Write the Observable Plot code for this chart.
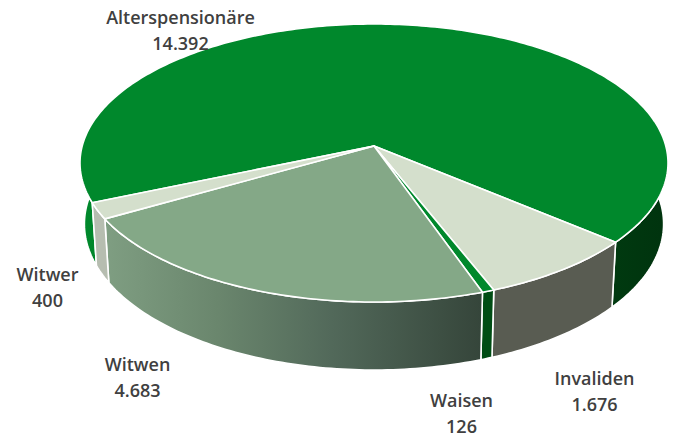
<!DOCTYPE html>
<html>
<head>
<meta charset="utf-8">
<script src="https://cdn.jsdelivr.net/npm/d3@7"></script>
<script src="https://cdn.jsdelivr.net/npm/@observablehq/plot@0.6"></script>
<style>html,body{margin:0;padding:0;background:#fff}</style>
</head>
<body>
<div id="chart"></div>
<script>
const names = ["Alterspensionäre", "Invaliden", "Waisen", "Witwen", "Witwer"];
const values = [14392, 1676, 126, 4683, 400];
const topColors = ["#00882c", "#d4dfcc", "#00882c", "#84a887", "#d4dfcc"];
const sideColors = ["url(#sideA)", "#595c52", "#004d14", "url(#sideW)", "#b6bdb0"];
const labelX = [180, 594, 461, 137, 47];
const labelY = [28, 389, 411, 375, 285];

const firstAngle = 246.8;          // degrees clockwise from the back of the pie
const persp = -0.122;              // projective shift of the pie's centre
const topDisc = {cx: 374, cy: 163, a: 294, b: 139};
const baseDisc = {cx: 374, cy: 224, a: 289.6, b: 146};

function project(deg, d) {
  const t = deg * Math.PI / 180, u = Math.sin(t), v = -Math.cos(t);
  const w = 1 + persp * v;
  return [d.cx + d.a * u * Math.sqrt(1 - persp * persp) / w, d.cy + d.b * (v + persp) / w];
}
const total = d3.sum(values);
let acc = firstAngle;
const slices = names.map((name, i) => {
  const start = acc, end = acc + values[i] / total * 360;
  acc = end;
  const n = Math.max(2, Math.ceil(end - start));
  const rows = d3.range(n + 1).map(k => {
    const deg = start + (end - start) * k / n;
    const [x, y] = project(deg, topDisc), [xb, yb] = project(deg, baseDisc);
    return {x, y, xb, yb};
  });
  return {name, rows, i};
});
const apexY = topDisc.cy + topDisc.b * persp;

const defs = () => {
  const g = d3.create("svg:defs");
  const grad = (id, stops) => {
    const l = g.append("linearGradient").attr("id", id).attr("x1", 0).attr("x2", 1).attr("y1", 0).attr("y2", 0);
    stops.forEach(([o, c]) => l.append("stop").attr("offset", o).attr("stop-color", c));
  };
  grad("sideW", [[0, "#7f9e82"], [0.3, "#6a866d"], [0.6, "#52695a"], [1, "#35453a"]]);
  grad("sideA", [[0, "#008a2c"], [0.1, "#007a26"], [0.5, "#004d14"], [0.9, "#003a10"], [1, "#00330e"]]);
  return g.node();
};

const chart = Plot.plot({
  width: 675, height: 434,
  margin: 0,
  style: {background: "#fff"},
  x: {domain: [0, 675], range: [0, 675], axis: null},
  y: {domain: [0, 434], range: [0, 434], axis: null},
  marks: [
    defs,
    ...slices.map(s => Plot.area(s.rows, {
      x1: "x", y1: "y", x2: "xb", y2: "yb",
      fill: sideColors[s.i], stroke: "#fff", strokeWidth: 1.6
    })),
    ...slices.map(s => Plot.area(s.rows, {
      x1: () => topDisc.cx, y1: () => apexY, x2: "x", y2: "y",
      fill: topColors[s.i], stroke: "#fff", strokeWidth: 1.6, strokeLinejoin: "round"
    })),
    Plot.text(names.map((n, i) => i), {
      x: i => labelX[i], y: i => labelY[i],
      text: i => names[i] + "\n" + values[i].toLocaleString("de-DE"),
      fontFamily: "'Open Sans'", fontWeight: 600, fontSize: 18, lineHeight: 1.45,
      fill: "#404040", textAnchor: "middle"
    })
  ]
});
document.getElementById("chart").appendChild(chart);
</script>
</body>
</html>
